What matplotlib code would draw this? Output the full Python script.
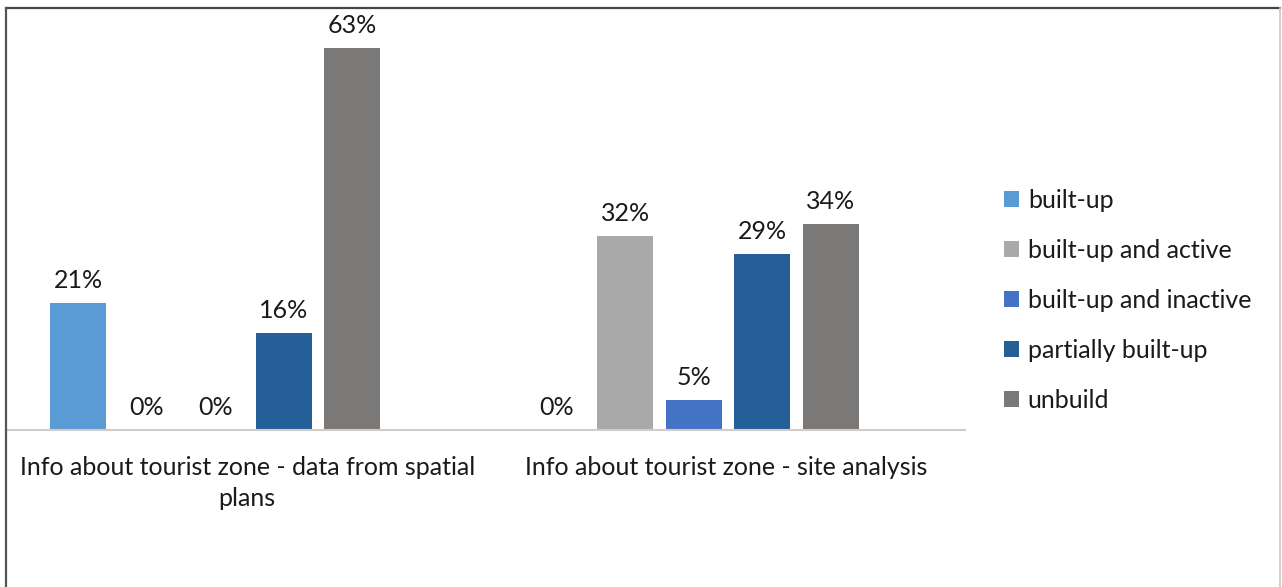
import numpy as np
import matplotlib.pyplot as plt
from matplotlib.lines import Line2D

plt.rcParams['font.family'] = ['Lato', 'DejaVu Sans']

categories = ['Info about tourist zone - data from spatial\nplans',
              'Info about tourist zone - site analysis']
series = ['built-up', 'built-up and active', 'built-up and inactive',
          'partially built-up', 'unbuild']
values = {
    'built-up':              [21, 0],
    'built-up and active':   [0, 32],
    'built-up and inactive': [0, 5],
    'partially built-up':    [16, 29],
    'unbuild':               [63, 34],
}
colors = ['#5b9bd5', '#a9a9a9', '#4472c4', '#245f98', '#7b7878']

W, H = 1282, 587
fig = plt.figure(figsize=(W / 100, H / 100), dpi=100)
# axes box in pixels: x 8..965, baseline at y=430, top at y=6
ax = fig.add_axes([8 / W, (H - 430) / H, (965 - 8) / W, 424 / H])

x = np.arange(len(categories))
slot = 0.143
width = 0.117
centre = x + 0.433
for i, (name, col) in enumerate(zip(series, colors)):
    pos = centre + (i - 2) * slot
    bars = ax.bar(pos, values[name], width, color=col, label=name)
    ax.bar_label(bars, labels=[f'{v}%' for v in values[name]], padding=8,
                 fontsize=18, color='#1a1a1a')

ax.set_xlim(0, 2)
ax.set_ylim(0, 70)
ax.set_xticks(x + 0.5)
ax.set_xticklabels(categories, fontsize=18, color='#1a1a1a', linespacing=1.4)
ax.tick_params(axis='x', length=0, pad=19)
ax.set_yticks([])
for s in ['top', 'right', 'left']:
    ax.spines[s].set_visible(False)
ax.spines['bottom'].set_color('#d3cbc7')
ax.spines['bottom'].set_linewidth(1.5)

ax.legend(loc='upper left', bbox_to_anchor=(1004 / W, 1 - 189 / H),
          bbox_transform=fig.transFigure, frameon=False, fontsize=18,
          handlelength=0.6, handleheight=0.6, handletextpad=0.35,
          labelspacing=1.08, borderpad=0, borderaxespad=0,
          labelcolor='#1a1a1a')

# outer frame
fig.add_artist(Line2D([6 / W, 1280 / W], [1 - 8 / H, 1 - 8 / H],
                      color='#444444', lw=1.6, transform=fig.transFigure))
fig.add_artist(Line2D([6 / W, 6 / W], [0, 1 - 8 / H],
                      color='#555555', lw=1.6, transform=fig.transFigure))
fig.add_artist(Line2D([1280 / W, 1280 / W], [0, 1 - 8 / H],
                      color='#c8c8c8', lw=1.2, transform=fig.transFigure))

fig.savefig('out.png', dpi=100)
